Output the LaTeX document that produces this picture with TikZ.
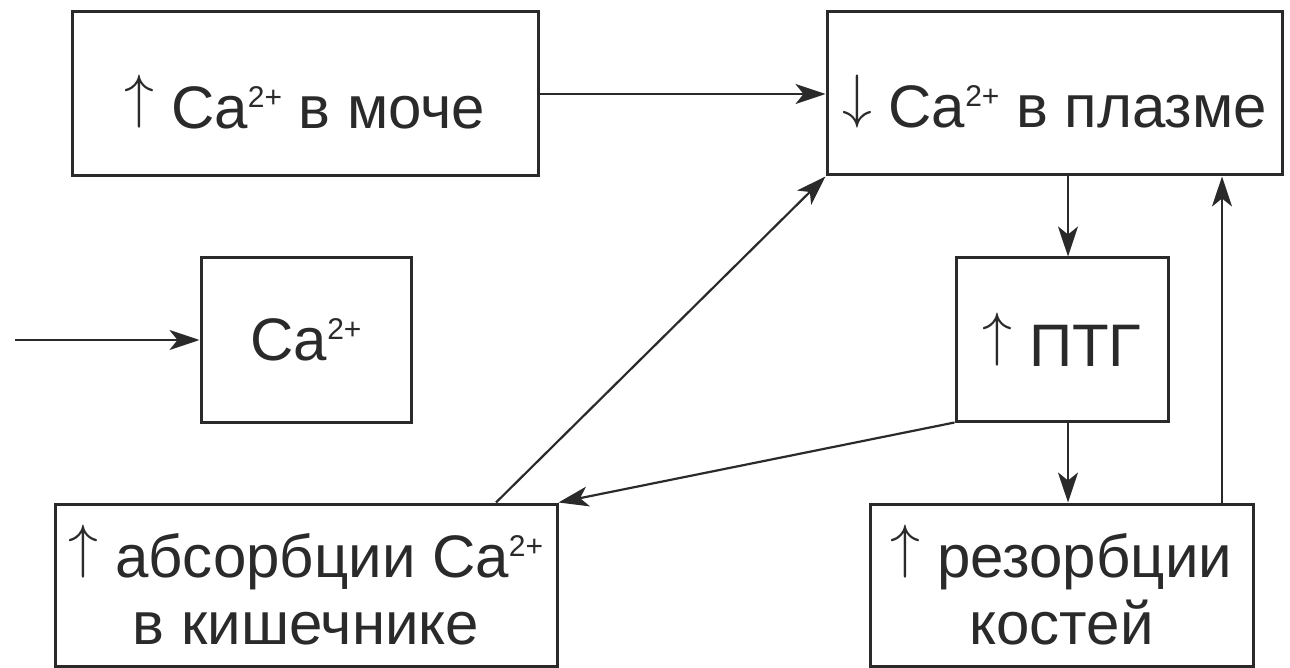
\documentclass[tikz,border=0pt]{standalone}
\usepackage{graphicx}
\usepackage{fontspec}
\setmainfont{Liberation Sans}
\usetikzlibrary{arrows.meta}
\definecolor{ink}{HTML}{2A2A2A}
\newcommand\casup{Ca\raisebox{10.5pt}{\fontsize{15}{15}\selectfont 2+}}
\newcommand\upar{\raisebox{5.8pt}{\scalebox{1.2}{\fontsize{24.88}{30}\selectfont$\uparrow$}}}
\newcommand\dnar{\raisebox{5.8pt}{\scalebox{1.2}{\fontsize{24.88}{30}\selectfont$\downarrow$}}}
\newcommand\txtdown[1]{\raisebox{-4pt}[\height][\depth]{#1}}
\begin{document}
\begin{tikzpicture}[x=0.5pt,y=-0.5pt,
  box/.style={draw=ink, line width=1.5pt, inner sep=0pt, align=center, text=ink,
    font=\fontsize{30}{33.5}\selectfont},
  arr/.style={draw=ink, line width=1.1pt, -{Stealth[length=15pt,width=10pt,inset=4pt]}}]
\useasboundingbox (0,0) rectangle (1290,668);
\node[box, minimum width=233pt, minimum height=82pt] (A) at (305,94) {\txtdown{\upar\ \casup\ в моче}};
\node[box, minimum width=227.5pt, minimum height=81.5pt] (B) at (1054.5,93.5) {\txtdown{\dnar\ \casup\ в плазме}};
\node[box, minimum width=105pt, minimum height=82pt] (C) at (306,340) {\casup};
\node[box, minimum width=106pt, minimum height=81.5pt] (D) at (1062,339.5) {\upar\ ПТГ};
\node[box, minimum width=251pt, minimum height=81pt] (E) at (306,585) {\upar\ абсорбции \casup\\в кишечнике};
\node[box, minimum width=191.5pt, minimum height=81pt] (F) at (1061.5,585) {\upar\ резорбции\\костей};
\coordinate (in) at (15,340);
\coordinate (xd) at (1068,0);
\coordinate (xu) at (1222,0);
\coordinate (xe) at (496,0);
\draw[arr] (A.east) -- (A.east -| B.west);
\draw[arr] (in) -- (C.west);
\draw[arr] (B.south -| xd) -- (D.north -| xd);
\draw[arr] (D.south -| xd) -- (F.north -| xd);
\draw[arr] (F.north -| xu) -- (B.south -| xu);
\draw[arr] (D.south west) -- (E.north east);
\draw[arr] (E.north -| xe) -- (B.south west);
\end{tikzpicture}
\end{document}
